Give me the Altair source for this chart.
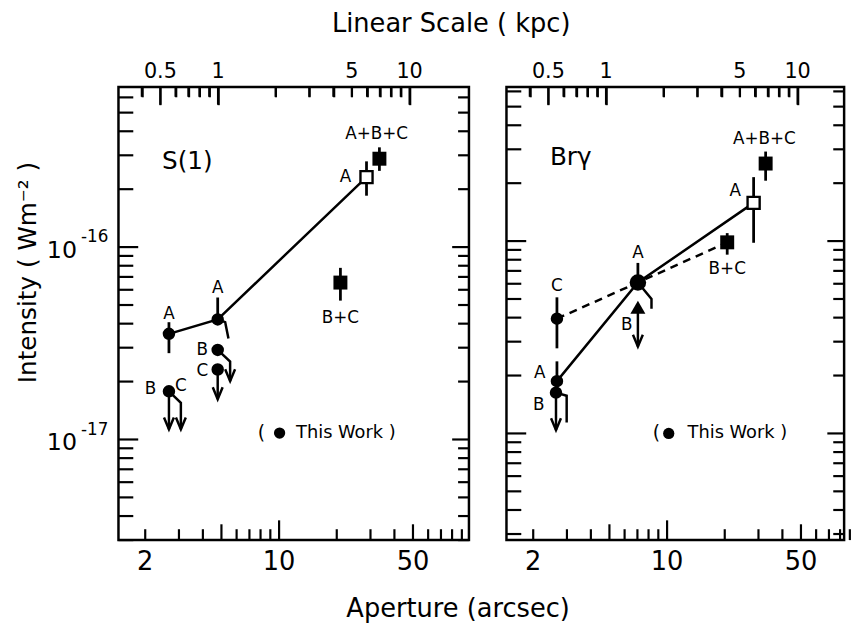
import math
import altair as alt
import pandas as pd

FONT = "DejaVu Sans"
KPC = 4.8  # arcsec per kpc for the top scale

X_DOM_L = [1.45, 98.0]
X_DOM_R = [1.45, 84.0]
Y_DOM_L = [3.0e-18, 6.8e-16]
Y_DOM_R = [2.79e-18, 6.33e-16]   # right panel sits slightly higher in the original
W_L, W_R, H = 355, 342, 459

# ---------------- axis tick values ----------------
ap_minor = [2, 3, 4, 6, 7, 8, 9, 20, 30, 40, 60, 70, 80, 90]
ap_mid = [5, 50]
ap_major = [10]
ap_labels = [2, 10, 50]
kpc_minor = [0.4, 0.6, 0.7, 0.8, 0.9, 2, 3, 4, 5, 6, 7, 8, 9]
kpc_major = [0.5, 1, 10]
kpc_label_vals = [0.5, 1, 5, 10]
kpc_label_text = ["0.5", "1", "5", "10"]
int_minor = [3e-18, 4e-18, 5e-18, 6e-18, 7e-18, 8e-18, 9e-18,
             2e-17, 3e-17, 4e-17, 5e-17, 6e-17, 7e-17, 8e-17, 9e-17,
             2e-16, 3e-16, 4e-16, 5e-16, 6e-16]
int_major = [1e-17, 1e-16]
int_label_exp = ["-17", "-16"]

# ---------------- S(1) panel ----------------
s1_line_x = [2.66, 4.78, 28.6]
s1_line_y = [3.54e-17, 4.21e-17, 2.31e-16]
s1_circ_x = [2.66, 4.78, 4.78, 4.78, 2.66]
s1_circ_y = [3.54e-17, 4.21e-17, 2.92e-17, 2.31e-17, 1.78e-17]
s1_open_x = [28.6]
s1_open_y = [2.31e-16]
s1_sq_x = [33.4, 20.9]
s1_sq_y = [2.88e-16, 6.54e-17]
s1_err_x = [2.66, 4.78, 28.6, 33.4, 20.9]
s1_err_lo = [2.81e-17, 4.21e-17, 1.85e-16, 2.49e-16, 5.27e-17]
s1_err_hi = [4.07e-17, 5.47e-17, 2.79e-16, 3.30e-16, 7.80e-17]
s1_arr_x = [2.66, 4.78]
s1_arr_from = [1.78e-17, 2.31e-17]
s1_arr_tip = [1.13e-17, 1.62e-17]
s1_hook_x = [[2.66, 3.07, 3.07], [4.78, 5.55, 5.55], [4.78, 5.23, 5.44]]
s1_hook_y = [[1.78e-17, 1.55e-17, 1.13e-17], [2.92e-17, 2.54e-17, 2.01e-17],
             [4.21e-17, 4.07e-17, 3.35e-17]]
s1_hook_arrow = [True, True, False]
s1_lab_t = ["A", "A", "B", "C", "B", "C", "A", "A+B+C", "B+C"]
s1_lab_x = [2.66, 4.78, 3.97, 3.97, 2.13, 3.07, 22.2, 32.3, 20.9]
s1_lab_y = [4.5e-17, 6.16e-17, 2.92e-17, 2.28e-17, 1.82e-17, 1.89e-17, 2.31e-16, 3.85e-16, 4.28e-17]
s1_name = "S(1)"
s1_name_x, s1_name_y = 3.32, 2.8e-16
s1_leg_x = [8.09, 10.06, 12.27]
s1_leg_y = 1.08e-17

# ---------------- Br gamma panel ----------------
br_solid_x = [2.66, 7.04, 28.3]
br_solid_y = [1.87e-17, 6.09e-17, 1.58e-16]
br_dash_x = [2.66, 7.04, 20.6]
br_dash_y = [3.95e-17, 6.09e-17, 9.85e-17]
br_circ_x = [2.66, 2.66, 2.63]
br_circ_y = [3.95e-17, 1.87e-17, 1.63e-17]
br_big_x = [7.04]
br_big_y = [6.09e-17]
br_tri_x = [7.04]
br_tri_y = [4.53e-17]
br_open_x = [28.3]
br_open_y = [1.58e-16]
br_sq_x = [20.6, 32.7]
br_sq_y = [9.85e-17, 2.53e-16]
br_err_x = [2.66, 2.66, 7.04, 20.6, 28.3, 32.7]
br_err_lo = [2.77e-17, 1.87e-17, 6.09e-17, 8.5e-17, 9.8e-17, 2.06e-16]
br_err_hi = [5.10e-17, 2.37e-17, 7.70e-17, 1.10e-16, 2.15e-16, 2.92e-16]
br_arr_x = [2.63, 7.04]
br_arr_from = [1.63e-17, 4.53e-17]
br_arr_tip = [1.04e-17, 2.83e-17]
br_hook_x = [[2.63, 2.99, 2.99], [7.04, 8.29, 8.29]]
br_hook_y = [[1.63e-17, 1.57e-17, 1.14e-17], [6.09e-17, 5.0e-17, 4.45e-17]]
br_hook_arrow = [False, False]
br_lab_t = ["C", "A", "B", "A", "B", "B+C", "A", "A+B+C"]
br_lab_x = [2.66, 2.16, 2.14, 7.04, 6.16, 20.6, 22.7, 32.2]
br_lab_y = [5.86e-17, 2.06e-17, 1.41e-17, 8.68e-17, 3.68e-17, 7.18e-17, 1.83e-16, 3.41e-16]
br_name = "Brγ"
br_name_x, br_name_y = 3.14, 2.72e-16
br_leg_x = [8.79, 10.2, 12.8]
br_leg_y = 1.0e-17

ARROW = "M-1,-2.4L0,0L1,-2.4"
LW = 2.5
TW = 2.2


def panel(xdom, ydom, width, d, left):
    xsc = alt.Scale(type="log", domain=xdom, nice=False)
    ysc = alt.Scale(type="log", domain=ydom, nice=False)
    px_per_dec = H / math.log10(ydom[1] / ydom[0])

    def X(f, axis=None):
        return alt.X(f, type="quantitative", scale=xsc, axis=axis)

    def Y(f):
        return alt.Y(f, type="quantitative", scale=ysc, axis=None)

    def tick_x(vals, y0, y1):
        df = pd.DataFrame({"v": vals})
        return alt.Chart(df).mark_rule(strokeWidth=TW, color="black").encode(
            x=X("v"), y=alt.value(y0), y2=alt.value(y1))

    def tick_top(vals, length):
        # top-edge ticks: a real top axis whose ticks point inward, plus the same
        # ticks drawn as rules in data space
        lo = ydom[1] / 10 ** (length / px_per_dec)
        df = pd.DataFrame({"v": vals, "a": [ydom[1]] * len(vals), "b": [lo] * len(vals)})
        top_axis = alt.Axis(orient="top", values=vals, labels=False, domain=False, grid=False,
                            ticks=True, tickColor="black", tickWidth=TW,
                            tickSize=alt.ExprRef(expr=f"-{length}"), title=None, zindex=2)
        return alt.Chart(df).mark_rule(strokeWidth=TW, color="black").encode(
            x=X("v", top_axis), y=Y("a"), y2="b")

    def tick_y(vals, x0, x1):
        df = pd.DataFrame({"v": vals})
        return alt.Chart(df).mark_rule(strokeWidth=TW, color="black").encode(
            y=Y("v"), x=alt.value(x0), x2=alt.value(x1))

    def txt(size, align="center", **kw):
        return dict(font=FONT, fontSize=size, baseline="middle", align=align, color="black", **kw)

    kpc_minor_as = [round(k * KPC, 4) for k in kpc_minor]
    kpc_major_as = [round(k * KPC, 4) for k in kpc_major]

    layers = [
        tick_x(ap_minor, H, H - 11),
        tick_x(ap_mid, H, H - 16),
        tick_x(ap_major, H, H - 20),
        tick_top(kpc_minor_as, 10),
        tick_top(kpc_major_as, 18),
        tick_y(int_minor, 0, 15),
        tick_y(int_major, 0, 20),
        tick_y(int_minor, width, width - 11),
        tick_y(int_major, width, width - 17),
    ]
    # bottom aperture labels
    bdf0 = pd.DataFrame({"v": ap_labels})
    layers.append(alt.Chart(bdf0).mark_text(**txt(26)).encode(
        x=X("v"), y=alt.value(H + 22), text=alt.Text("v:Q", format="d")))
    # top kpc labels
    kdf = pd.DataFrame({"v": [k * KPC for k in kpc_label_vals], "t": kpc_label_text})
    layers.append(alt.Chart(kdf).mark_text(**txt(21)).encode(
        x=X("v"), y=alt.value(-15), text="t:N"))

    # connecting lines
    for lx, ly, dash in d["lines"]:
        ldf = pd.DataFrame({"x": lx, "y": ly})
        mk = alt.Chart(ldf).mark_line(color="black", strokeWidth=LW, strokeDash=dash) if dash else \
            alt.Chart(ldf).mark_line(color="black", strokeWidth=LW)
        layers.append(mk.encode(x=X("x"), y=Y("y"), order="x:Q"))

    # error bars
    edf = pd.DataFrame({"x": d["err_x"], "lo": d["err_lo"], "hi": d["err_hi"]})
    layers.append(alt.Chart(edf).mark_rule(color="black", strokeWidth=2.8).encode(
        x=X("x"), y=Y("lo"), y2="hi"))

    # arrow shafts
    adf = pd.DataFrame({"x": d["arr_x"], "f": d["arr_from"], "t": d["arr_tip"]})
    layers.append(alt.Chart(adf).mark_rule(color="black", strokeWidth=LW).encode(
        x=X("x"), y=Y("f"), y2="t"))

    # hooks
    rows = []
    for i, (hx, hy) in enumerate(zip(d["hook_x"], d["hook_y"])):
        for j, (a, b) in enumerate(zip(hx, hy)):
            rows.append({"id": i, "o": j, "x": a, "y": b})
    hdf = pd.DataFrame(rows)
    layers.append(alt.Chart(hdf).mark_line(color="black", strokeWidth=LW, strokeJoin="miter").encode(
        x=X("x"), y=Y("y"), detail="id:N", order="o:Q"))

    # arrow heads
    tx = list(d["arr_x"]) + [hx[-1] for hx, f in zip(d["hook_x"], d["hook_arrow"]) if f]
    ty = list(d["arr_tip"]) + [hy[-1] for hy, f in zip(d["hook_y"], d["hook_arrow"]) if f]
    tdf = pd.DataFrame({"x": tx, "y": ty})
    layers.append(alt.Chart(tdf).mark_point(shape=ARROW, filled=False, size=100, stroke="black",
                                            strokeWidth=LW, opacity=1).encode(x=X("x"), y=Y("y")))

    # filled circles
    cdf = pd.DataFrame({"x": d["circ_x"], "y": d["circ_y"]})
    layers.append(alt.Chart(cdf).mark_point(shape="circle", filled=True, size=160, color="black",
                                            opacity=1).encode(x=X("x"), y=Y("y")))
    if "big_x" in d:
        bdf = pd.DataFrame({"x": d["big_x"], "y": d["big_y"]})
        layers.append(alt.Chart(bdf).mark_point(shape="circle", filled=True, size=280, color="black",
                                                opacity=1).encode(x=X("x"), y=Y("y")))
    if "tri_x" in d:
        tr = pd.DataFrame({"x": d["tri_x"], "y": d["tri_y"]})
        layers.append(alt.Chart(tr).mark_point(shape="triangle-up", filled=True, size=230, color="black",
                                               opacity=1).encode(x=X("x"), y=Y("y")))
    # squares
    sdf = pd.DataFrame({"x": d["sq_x"], "y": d["sq_y"]})
    layers.append(alt.Chart(sdf).mark_point(shape="square", filled=True, size=200, color="black",
                                            opacity=1).encode(x=X("x"), y=Y("y")))
    odf = pd.DataFrame({"x": d["open_x"], "y": d["open_y"]})
    layers.append(alt.Chart(odf).mark_point(shape="square", filled=True, size=150, fill="white",
                                            stroke="black", strokeWidth=2.4, opacity=1).encode(
        x=X("x"), y=Y("y")))

    # point labels
    ldf = pd.DataFrame({"x": d["lab_x"], "y": d["lab_y"], "t": d["lab_t"]})
    layers.append(alt.Chart(ldf).mark_text(**txt(17)).encode(x=X("x"), y=Y("y"), text="t:N"))
    # panel name
    ndf = pd.DataFrame({"x": [d["name_x"]], "y": [d["name_y"]], "t": [d["name"]]})
    layers.append(alt.Chart(ndf).mark_text(**txt(25)).encode(x=X("x"), y=Y("y"), text="t:N"))
    # legend "( ● This Work )"
    lx = d["leg_x"]
    ly = d["leg_y"]
    layers.append(alt.Chart(pd.DataFrame({"x": [lx[0]], "y": [ly], "t": ["("]})).mark_text(**txt(19)).encode(
        x=X("x"), y=Y("y"), text="t:N"))
    layers.append(alt.Chart(pd.DataFrame({"x": [lx[1]], "y": [ly]})).mark_point(
        shape="circle", filled=True, size=130, color="black", opacity=1).encode(x=X("x"), y=Y("y")))
    layers.append(alt.Chart(pd.DataFrame({"x": [lx[2]], "y": [ly], "t": ["This Work )"]})).mark_text(
        **txt(18, "left")).encode(x=X("x"), y=Y("y"), text="t:N"))

    if left:
        ydf = pd.DataFrame({"v": int_major, "e": int_label_exp})
        layers.append(alt.Chart(ydf).mark_text(**txt(24, "right", dy=4, text="10")).encode(
            x=alt.value(-42), y=Y("v")))
        layers.append(alt.Chart(ydf).mark_text(**txt(17, "left", dy=-10)).encode(
            x=alt.value(-38), y=Y("v"), text="e:N"))
        tdf2 = pd.DataFrame({"t": ["Intensity ( Wm⁻² )", "Linear Scale ( kpc)", "Aperture (arcsec)"],
                             "k": ["y", "top", "bottom"]})
        layers.append(alt.Chart(tdf2).transform_filter("datum.k == 'y'").mark_text(
            **txt(25, angle=270)).encode(x=alt.value(-92), y=alt.value(188), text="t:N"))
        layers.append(alt.Chart(tdf2).transform_filter("datum.k == 'top'").mark_text(**txt(26)).encode(
            x=alt.value(337), y=alt.value(-64), text="t:N"))
        layers.append(alt.Chart(tdf2).transform_filter("datum.k == 'bottom'").mark_text(**txt(26)).encode(
            x=alt.value(344), y=alt.value(H + 70), text="t:N"))

    return alt.layer(*layers).resolve_axis(x="independent").properties(width=width, height=H)


s1 = dict(lines=[(s1_line_x, s1_line_y, None)], err_x=s1_err_x, err_lo=s1_err_lo, err_hi=s1_err_hi,
          arr_x=s1_arr_x, arr_from=s1_arr_from, arr_tip=s1_arr_tip, hook_x=s1_hook_x, hook_y=s1_hook_y,
          hook_arrow=s1_hook_arrow, circ_x=s1_circ_x, circ_y=s1_circ_y, sq_x=s1_sq_x, sq_y=s1_sq_y,
          open_x=s1_open_x, open_y=s1_open_y, lab_x=s1_lab_x, lab_y=s1_lab_y, lab_t=s1_lab_t,
          name=s1_name, name_x=s1_name_x, name_y=s1_name_y, leg_x=s1_leg_x, leg_y=s1_leg_y)
br = dict(lines=[(br_solid_x, br_solid_y, None), (br_dash_x, br_dash_y, [8, 6])],
          err_x=br_err_x, err_lo=br_err_lo, err_hi=br_err_hi,
          arr_x=br_arr_x, arr_from=br_arr_from, arr_tip=br_arr_tip, hook_x=br_hook_x, hook_y=br_hook_y,
          hook_arrow=br_hook_arrow, circ_x=br_circ_x, circ_y=br_circ_y, big_x=br_big_x, big_y=br_big_y,
          tri_x=br_tri_x, tri_y=br_tri_y, sq_x=br_sq_x, sq_y=br_sq_y,
          open_x=br_open_x, open_y=br_open_y, lab_x=br_lab_x, lab_y=br_lab_y, lab_t=br_lab_t,
          name=br_name, name_x=br_name_x, name_y=br_name_y, leg_x=br_leg_x, leg_y=br_leg_y)

left = panel(X_DOM_L, Y_DOM_L, W_L, s1, True)
right = panel(X_DOM_R, Y_DOM_R, W_R, br, False)

chart = alt.hconcat(left, right, spacing=38, bounds="flush").properties(
    padding={"left": 14, "top": 5, "right": 0, "bottom": 0},
    background="white",
).resolve_scale(x="independent", y="independent").configure_view(stroke="black", strokeWidth=2.5)

chart.save("out.html", embed_options={"renderer": "svg", "actions": False})
